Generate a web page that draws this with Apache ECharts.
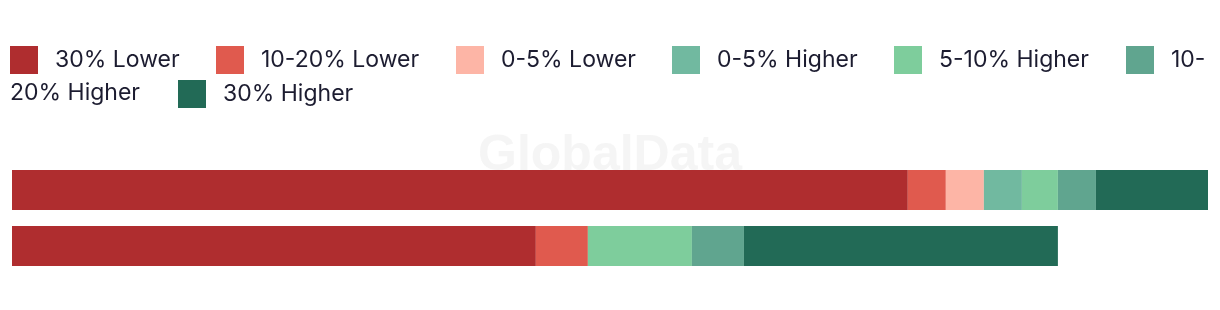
<!DOCTYPE html>
<html>
<head>
<meta charset="utf-8">
<script src="https://cdn.jsdelivr.net/npm/echarts@6/dist/echarts.min.js"></script>
<style>html,body{margin:0;padding:0;background:#fff;}#c{width:1220px;height:310px;}</style>
</head>
<body>
<div id="c"></div>
<script>
const categories = ['Row A', 'Row B'];
const seriesNames = ['30% Lower', '10-20% Lower', '0-5% Lower', '0-5% Higher', '5-10% Higher', '10-20% Higher', '30% Higher'];
const lower30 = [74.9, 43.8];
const lower10to20 = [3.18, 4.35];
const lower0to5 = [3.18, 0];
const higher0to5 = [3.18, 0];
const higher5to10 = [3.01, 8.7];
const higher10to20 = [3.18, 4.35];
const higher30 = [9.37, 26.25];
const seriesValues = [lower30, lower10to20, lower0to5, higher0to5, higher5to10, higher10to20, higher30];
const colors = ['#AF2D2F', '#E05A4E', '#FDB5A6', '#71B9A0', '#7ECD9C', '#60A58F', '#226A56'];

const FONT = 'Inter, "Noto Sans", sans-serif';
const textColor = '#1c1c30';
const legendText = { color: textColor, fontSize: 23, fontFamily: FONT, padding: [0, 0, 3, 12] };
// legend item positions (left, top)
const legendPos = [[10, 46], [216, 46], [456, 46], [672, 46], [894, 46], [1126, 46], [178, 80]];

const chart = echarts.init(document.getElementById('c'), null, { renderer: 'canvas' });
const total = lower30.map((v, i) => seriesValues.reduce((s, arr) => s + arr[i], 0));
chart.setOption({
  animation: false,
  color: colors,
  legend: seriesNames.map((n, i) => ({
    data: [n],
    left: legendPos[i][0],
    top: legendPos[i][1],
    padding: 0,
    itemWidth: 28,
    itemHeight: 28,
    icon: 'rect',
    selectedMode: false,
    textStyle: Object.assign({}, legendText, i === 6 ? { padding: [0, 0, 1, 12] } : {}),
    formatter: n === '10-20% Higher' ? () => '10-' : undefined
  })),
  graphic: [
    {
      type: 'text', x: 10, y: 93.5, z: 10,
      style: { text: '20% Higher', fill: textColor, font: '23px ' + FONT, verticalAlign: 'middle' }
    },
    {
      type: 'text', left: 'center', top: 131, z: 100, silent: true,
      style: { text: 'GlobalData', fill: 'rgba(200,200,200,0.18)', font: 'bold 50px Arial, "Liberation Sans", sans-serif' }
    }
  ],
  grid: { left: 12, right: 12, top: 162, height: 112, containLabel: false },
  xAxis: { type: 'value', min: 0, max: Math.max.apply(null, total), show: false },
  yAxis: { type: 'category', data: categories, inverse: true, show: false },
  series: seriesNames.map((n, i) => ({
    name: n,
    type: 'bar',
    stack: 'total',
    barWidth: 40,
    data: seriesValues[i],
    itemStyle: { color: colors[i] },
    emphasis: { disabled: true }
  }))
});
</script>
</body>
</html>
